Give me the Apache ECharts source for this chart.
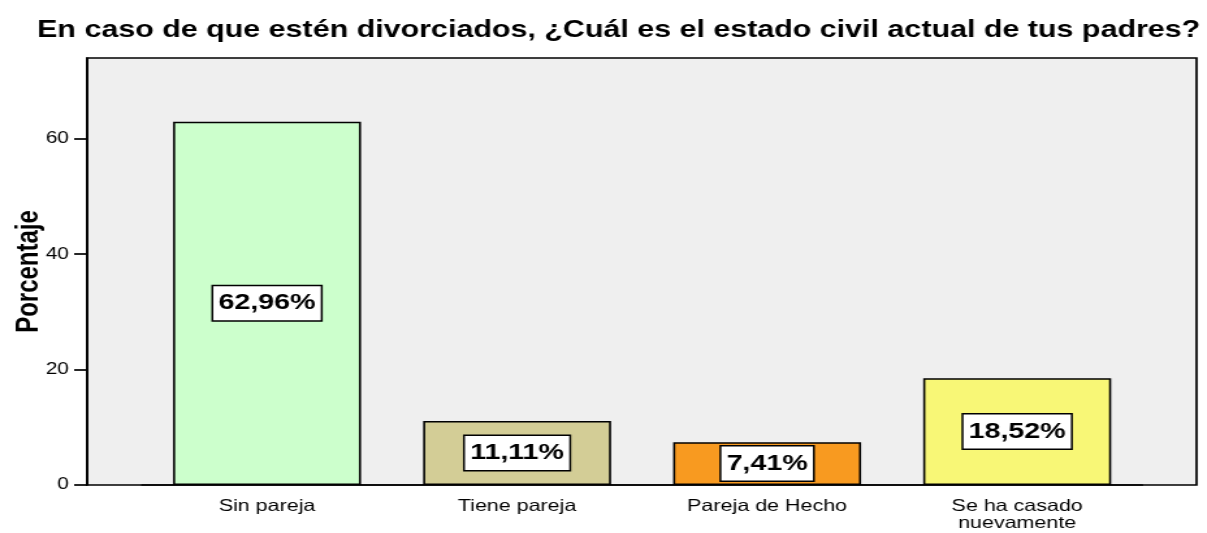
<!DOCTYPE html>
<html><head><meta charset="utf-8">
<script src="https://cdn.jsdelivr.net/npm/echarts@6/dist/echarts.min.js"></script>
<style>
html,body{margin:0;padding:0;background:#fff;overflow:hidden;width:1207px;height:533px}
#c{width:928px;height:533px;transform:scaleX(1.3006);transform-origin:0 0}
</style>
</head><body><div id="c"></div>
<script>
const title = "En caso de que estén divorciados, ¿Cuál es el estado civil actual de tus padres?";
const categories = ["Sin pareja", "Tiene pareja", "Pareja de Hecho", "Se ha casado\nnuevamente"];
const values = [62.96, 11.11, 7.41, 18.52];
const barColors = ["#ccffcc", "#d3cd96", "#f89a20", "#f8f776"];
const yTicks = [0, 20, 40, 60];
const yName = "Porcentaje";

const FONT = 'Liberation Sans, Arial, sans-serif';
const chart = echarts.init(document.getElementById('c'), null, {renderer: 'canvas'});
chart.setOption({
  animation: false,
  title: {
    text: title, left: 23.5, top: 14,
    textStyle: {fontFamily: FONT, fontSize: 23.4, fontWeight: 'bold', color: '#000'}
  },
  grid: [
    {left: 67, right: 8, top: 58, bottom: 48, show: true, backgroundColor: '#efefef', borderColor: '#000', borderWidth: 1.7, outerBoundsMode: 'none'},
    {left: 109.2, width: 769, top: 58, bottom: 48, outerBoundsMode: 'none', containLabel: false}
  ],
  xAxis: [
    {gridIndex: 0, type: 'value', show: false, min: 0, max: 1},
    {gridIndex: 1, type: 'category', data: categories,
     axisLine: {lineStyle: {color: '#000', width: 1.7}},
     axisTick: {alignWithLabel: true, length: 9, lineStyle: {color: '#000', width: 1.5}},
     axisLabel: {fontFamily: FONT, fontSize: 16.5, color: '#000', margin: 13, lineHeight: 17}}
  ],
  yAxis: [
    {gridIndex: 0, type: 'value', show: false, min: 0, max: 1},
    {gridIndex: 1, type: 'value', min: 0, max: 74, interval: 20, offset: 42.2,
     splitLine: {show: false},
     axisLine: {show: true, lineStyle: {color: '#000', width: 1.7}},
     axisTick: {show: true, length: 10, customValues: yTicks, lineStyle: {color: '#000', width: 1.7}},
     axisLabel: {fontFamily: FONT, fontSize: 16, color: '#000', margin: 14, customValues: yTicks},
     name: yName, nameLocation: 'middle', nameGap: 33, nameRotate: 90, nameMoveOverlap: false,
     nameTextStyle: {fontFamily: FONT, fontSize: 24, fontWeight: 'bold', color: '#000'}}
  ],
  series: [{
    type: 'bar', xAxisIndex: 1, yAxisIndex: 1, barWidth: 144.5,
    data: values.map((v, i) => ({value: v, itemStyle: {color: barColors[i]}})),
    itemStyle: {borderColor: '#000', borderWidth: 1.6},
    label: {
      show: true, position: 'inside',
      formatter: p => p.value.toFixed(2).replace('.', ',') + '%',
      fontFamily: FONT, fontSize: 22, fontWeight: 'bold', color: '#000',
      backgroundColor: '#fff', borderColor: '#000', borderWidth: 1.5, padding: [7, 4, 5, 4]
    }
  }]
});
</script></body></html>
